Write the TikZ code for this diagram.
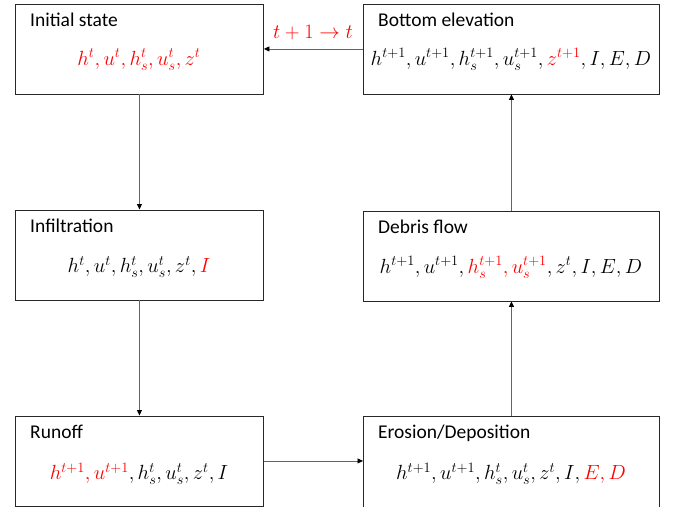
\RequirePackage{fix-cm}
\documentclass[tikz,border=0pt]{standalone}
\usepackage{fontspec}
\setmainfont{Carlito}
\usetikzlibrary{arrows.meta}
\definecolor{myred}{RGB}{255,0,0}
\definecolor{boxline}{RGB}{40,40,40}
\definecolor{connline}{RGB}{100,100,100}
\begin{document}
\begin{tikzpicture}[x=1pt,y=-1pt,
  lbox/.style={draw=boxline, line width=0.9pt, minimum width=248pt, minimum height=90pt, anchor=north west, inner sep=0pt},
  rbox/.style={draw=boxline, line width=0.9pt, minimum width=296pt, minimum height=90pt, anchor=north west, inner sep=0pt},
  ttl/.style={anchor=base west, font=\fontsize{19.5}{22}\selectfont, inner sep=0pt},
  eq/.style={anchor=base, font=\fontsize{20.5}{24}\selectfont, inner sep=0pt},
  conn/.style={draw=connline, line width=0.8pt, -{Triangle[length=5.5pt,width=5pt,color=black]}},
]
\useasboundingbox (0,0) rectangle (676,506);
% boxes
\node[lbox] (init) at (15,3.5) {};
\node[rbox] (bot) at (363,3.5) {};
\node[lbox] (infil) at (15,209.5) {};
\node[rbox] (debris) at (363,210.5) {};
\node[lbox] (runoff) at (15,415.5) {};
\node[rbox, minimum height=91.5pt] (eros) at (363,415.8) {};
% titles
\node[ttl] (initT) at (30,26) {Initial state};
\node[ttl] (botT) at (378,26) {Bottom elevation};
\node[ttl] (infilT) at (30,232) {Infiltration};
\node[ttl] (debrisT) at (378,233) {Debris flow};
\node[ttl] (runoffT) at (30,438) {Runoff};
\node[ttl] (erosT) at (378,438.5) {Erosion/Deposition};
% equations
\node[eq, text=myred] (initE) at (139,65) {$h^t, u^t, h_s^t, u_s^t, z^t$};
\node[eq] (botE) at (511,65) {$h^{t+1}, u^{t+1}, h_s^{t+1}, u_s^{t+1}, \textcolor{myred}{z^{t+1}}, I, E, D$};
\node[eq] (infilE) at (139,272.5) {$h^t, u^t, h_s^t, u_s^t, z^t, \textcolor{myred}{I}$};
\node[eq] (debrisE) at (511,273) {$h^{t+1}, u^{t+1}, \textcolor{myred}{h_s^{t+1}, u_s^{t+1}}, z^t, I, E, D$};
\node[eq] (runoffE) at (139,479.5) {$\textcolor{myred}{h^{t+1}, u^{t+1}}, h_s^t, u_s^t, z^t, I$};
\node[eq] (erosE) at (511,479.5) {$h^{t+1}, u^{t+1}, h_s^t, u_s^t, z^t, I, \textcolor{myred}{E, D}$};
% connectors
\draw[conn] (init.south) -- (infil.north);
\draw[conn] (infil.south) -- (runoff.north);
\draw[conn] (runoff.east) -- (runoff.east -| eros.west);
\draw[conn] (eros.north) -- (debris.south);
\draw[conn] (debris.north) -- (bot.south);
\draw[conn] (bot.west) -- (init.east);
\node[eq, text=myred] (lab) at (313,38) {$t+1\to t$};
\end{tikzpicture}
\end{document}
